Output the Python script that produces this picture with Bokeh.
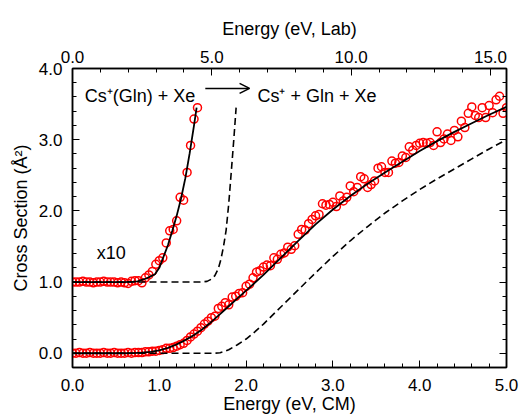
from bokeh.plotting import figure
from bokeh.models import (Range1d, LinearAxis, SingleIntervalTicker, PrintfTickFormatter,
                          CustomJSTickFormatter, Label, Arrow, OpenHead)
from bokeh.embed import file_html
from bokeh.resources import INLINE

# ---------------- data ----------------
energy_cm = [
    0.00, 0.04, 0.08, 0.12, 0.16, 0.20, 0.24, 0.28, 0.32, 0.36,
    0.40, 0.44, 0.48, 0.52, 0.56, 0.60, 0.64, 0.68, 0.72, 0.76,
    0.80, 0.84, 0.88, 0.92, 0.96, 1.00, 1.04, 1.08, 1.12, 1.16,
    1.20, 1.24, 1.28, 1.32, 1.36, 1.40, 1.44, 1.48, 1.52, 1.56,
    1.60, 1.64, 1.68, 1.72, 1.76, 1.80, 1.84, 1.88, 1.92, 1.96,
    2.00, 2.04, 2.08, 2.12, 2.16, 2.20, 2.24, 2.28, 2.32, 2.36,
    2.40, 2.44, 2.48, 2.52, 2.56, 2.60, 2.64, 2.68, 2.72, 2.76,
    2.80, 2.84, 2.88, 2.92, 2.96, 3.00, 3.04, 3.08, 3.12, 3.16,
    3.20, 3.24, 3.28, 3.32, 3.36, 3.40, 3.44, 3.48, 3.52, 3.56,
    3.60, 3.64, 3.68, 3.72, 3.76, 3.80, 3.84, 3.88, 3.92, 3.96,
    4.00, 4.04, 4.08, 4.12, 4.16, 4.20, 4.24, 4.28, 4.32, 4.36,
    4.40, 4.44, 4.48, 4.52, 4.56, 4.60, 4.64, 4.68, 4.72, 4.76,
    4.80, 4.84, 4.88, 4.92, 4.96, 5.00,
]
cross_section = [
    0.00, 0.00, 0.01, 0.00, 0.00, 0.01, 0.00, 0.00, 0.00, 0.01,
    0.00, 0.00, 0.01, 0.00, 0.00, 0.00, 0.01, 0.00, 0.01, 0.01,
    0.01, 0.02, 0.02, 0.03, 0.03, 0.04, 0.05, 0.07, 0.07, 0.08,
    0.10, 0.12, 0.14, 0.18, 0.23, 0.27, 0.31, 0.36, 0.41, 0.45,
    0.50, 0.52, 0.63, 0.66, 0.71, 0.68, 0.79, 0.80, 0.84, 0.85,
    0.94, 0.97, 1.06, 1.14, 1.16, 1.21, 1.24, 1.23, 1.34, 1.32,
    1.39, 1.41, 1.49, 1.46, 1.51, 1.67, 1.74, 1.73, 1.82, 1.88,
    1.93, 1.95, 2.10, 2.08, 2.09, 2.12, 2.06, 2.21, 2.14, 2.19,
    2.35, 2.27, 2.33, 2.48, 2.45, 2.33, 2.37, 2.42, 2.60, 2.62,
    2.54, 2.54, 2.70, 2.67, 2.68, 2.77, 2.75, 2.90, 2.85, 2.92,
    2.95, 2.96, 2.95, 2.96, 2.92, 3.11, 2.96, 3.01, 3.08, 2.99,
    3.13, 3.04, 3.26, 3.17, 3.37, 3.46, 3.34, 3.31, 3.45, 3.31,
    3.48, 3.38, 3.56, 3.61, 3.37, 3.45,
]
# x10 expanded threshold region (offset by 1.0)
energy_x10 = energy_cm[:37]
cross_section_x10 = [
    1.00, 1.00, 1.00, 1.01, 1.00, 1.00, 0.99, 1.00, 1.00, 1.01,
    1.00, 1.00, 1.00, 0.99, 1.00, 0.99, 0.98, 1.01, 1.02, 1.02,
    0.99, 1.06, 1.10, 1.15, 1.25, 1.30, 1.34, 1.55, 1.72, 1.74,
    1.86, 2.19, 2.15, 2.54, 2.92, 3.29, 3.45,
]
# convoluted fit (solid)
fit_energy = [0.0, 0.6, 0.7, 0.8, 0.9, 1.0, 1.1, 1.2, 1.3, 1.4, 1.5, 1.6, 1.7, 1.8, 1.9,
              2.0, 2.2, 2.4, 2.6, 2.8, 3.0, 3.2, 3.4, 3.6, 3.8, 4.0, 4.2, 4.4, 4.6, 4.8, 5.0]
fit_sigma = [0.0, 0.0, 0.002, 0.008, 0.02, 0.04, 0.075, 0.125, 0.185, 0.255, 0.34, 0.44, 0.55,
             0.66, 0.77, 0.88, 1.10, 1.34, 1.58, 1.81, 2.02, 2.21, 2.38, 2.54, 2.69, 2.84,
             2.98, 3.11, 3.23, 3.35, 3.46]
# unconvoluted model (dashed)
model_energy = [0.0, 1.6, 1.65, 1.7, 1.75, 1.8, 1.9, 2.0, 2.1, 2.2, 2.4, 2.6, 2.8, 3.0, 3.2,
                3.4, 3.6, 3.8, 4.0, 4.2, 4.4, 4.6, 4.8, 5.0]
model_sigma = [0.0, 0.0, 0.002, 0.008, 0.025, 0.05, 0.12, 0.20, 0.30, 0.41, 0.65, 0.89, 1.13,
               1.36, 1.58, 1.78, 1.97, 2.14, 2.30, 2.45, 2.59, 2.73, 2.87, 3.00]
# x10 curves
fit10_energy = [0.0, 0.6, 0.7, 0.75, 0.8, 0.85, 0.9, 0.95, 1.0, 1.05, 1.1, 1.15, 1.2, 1.25,
                1.3, 1.35, 1.4, 1.43]
fit10_sigma = [1.0, 1.0, 1.005, 1.01, 1.03, 1.05, 1.08, 1.11, 1.20, 1.36, 1.52, 1.72, 1.93,
               2.17, 2.46, 2.81, 3.20, 3.45]
model10_energy = [0.0, 1.45, 1.5, 1.55, 1.6, 1.64, 1.68, 1.71, 1.74, 1.77, 1.80, 1.83, 1.86, 1.885]
model10_sigma = [1.0, 1.0, 1.003, 1.01, 1.04, 1.09, 1.19, 1.32, 1.50, 1.73, 2.10, 2.56, 3.03, 3.45]

LAB_PER_CM = 3.115  # (m_ion + m_Xe) / m_Xe
x_ticks_cm = 1.0
x_ticks_lab = 5.0
y_ticks = 1.0

FONT = "Liberation Sans"

# ---------------- figure ----------------
p = figure(width=519, height=420, x_range=Range1d(0, 5), y_range=Range1d(-0.2, 4.0),
           output_backend="svg", toolbar_location=None,
           min_border_left=72, min_border_right=13, min_border_top=68, min_border_bottom=53,
           background_fill_color="white", border_fill_color="white")
p.grid.visible = False
p.outline_line_color = "black"
p.outline_line_width = 1.5
p.extra_x_ranges = {"lab": Range1d(0, 5 * LAB_PER_CM)}


def style_axis(ax, show_labels=True):
    ax.axis_line_width = 1.5
    ax.axis_line_color = "black"
    ax.major_tick_in = 7
    ax.major_tick_out = 0
    ax.minor_tick_in = 4
    ax.minor_tick_out = 0
    ax.major_tick_line_color = "black"
    ax.minor_tick_line_color = "black"
    ax.major_tick_line_width = 1
    ax.minor_tick_line_width = 1
    ax.major_label_text_font = FONT
    ax.major_label_text_color = "black"
    ax.major_label_text_font_size = "17px"
    ax.axis_label_text_font = FONT
    ax.axis_label_text_font_style = "normal"
    ax.axis_label_text_font_size = "18px"
    ax.axis_label_text_color = "black"
    if show_labels:
        ax.formatter = PrintfTickFormatter(format="%.1f")
    else:
        ax.formatter = CustomJSTickFormatter(code="return ''")
        ax.major_label_standoff = 0


xb = p.xaxis[0]
xb.ticker = SingleIntervalTicker(interval=x_ticks_cm, num_minor_ticks=5)
style_axis(xb)
xb.axis_label = "Energy (eV, CM)"
xb.major_label_standoff = 11
xb.axis_label_standoff = 0

yl = p.yaxis[0]
yl.ticker = SingleIntervalTicker(interval=y_ticks, num_minor_ticks=5)
style_axis(yl)
yl.axis_label = "Cross Section (Å²)"
yl.major_label_standoff = 10
yl.axis_label_standoff = 5

xt = LinearAxis(x_range_name="lab", ticker=SingleIntervalTicker(interval=x_ticks_lab, num_minor_ticks=5))
style_axis(xt)
xt.axis_label = "Energy (eV, Lab)"
xt.major_label_standoff = 6
xt.axis_label_standoff = 9
p.add_layout(xt, "above")

yr = LinearAxis(ticker=SingleIntervalTicker(interval=y_ticks, num_minor_ticks=5))
style_axis(yr, show_labels=False)
p.add_layout(yr, "right")

# ---------------- glyphs ----------------
p.scatter(energy_cm, cross_section, marker="circle", size=8, fill_color=None,
          line_color="#ff0000", line_width=1.5)
p.scatter(energy_x10, cross_section_x10, marker="circle", size=8, fill_color=None,
          line_color="#ff0000", line_width=1.5)

p.line(fit_energy, fit_sigma, line_color="black", line_width=1.8)
p.line(fit10_energy, fit10_sigma, line_color="black", line_width=1.8)
p.line(model_energy, model_sigma, line_color="black", line_width=1.6, line_dash="7 4")
p.line(model10_energy, model10_sigma, line_color="black", line_width=1.6, line_dash="7 4")

# ---------------- annotations ----------------
p.add_layout(Label(x=0.14, y=3.62, text="Cs⁺(Gln) + Xe", text_font=FONT,
                   text_font_size="18px", text_color="black", text_baseline="alphabetic"))
p.add_layout(Arrow(end=OpenHead(size=10, line_width=1.5, line_color="black"),
                   x_start=1.53, y_start=3.72, x_end=2.04, y_end=3.72,
                   line_width=1.5, line_color="black"))
p.add_layout(Label(x=2.13, y=3.62, text="Cs⁺ + Gln + Xe", text_font=FONT,
                   text_font_size="18px", text_color="black", text_baseline="alphabetic"))
p.add_layout(Label(x=0.28, y=1.41, text="x10", text_font=FONT,
                   text_font_size="18px", text_color="black", text_baseline="alphabetic"))

open("out.html", "w").write(file_html(p, INLINE))
